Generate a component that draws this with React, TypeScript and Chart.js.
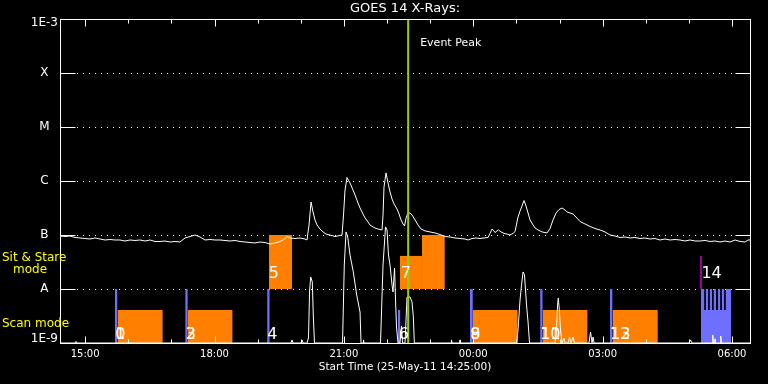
import React, { useEffect, useRef } from 'react';
import { Chart, registerables } from 'chart.js';

Chart.register(...registerables);

// ---- axes ----
const X_MIN = 14 + 25 / 60; // 14:25 on 25-May-11
const X_MAX = X_MIN + 16;
const xTickHours = [15, 16, 17, 18, 19, 20, 21, 22, 23, 24, 25, 26, 27, 28, 29, 30];
const xLabelHours = [15, 18, 21, 24, 27, 30];
const xLabelTexts = ['15:00', '18:00', '21:00', '00:00', '03:00', '06:00'];
const yTickValues = [1e-9, 1e-8, 1e-7, 1e-6, 1e-5, 1e-4, 1e-3];
const yTickLabels = ['1E-9', 'A', 'B', 'C', 'M', 'X', '1E-3'];
const gridLevels = [1e-8, 1e-7, 1e-6, 1e-5, 1e-4];

// ---- GOES long channel (hours of day, W/m^2) ----
const longHours = [
  14.417, 14.533, 14.649, 14.765, 14.880, 14.996, 15.112, 15.228, 15.344, 15.460,
  15.576, 15.692, 15.808, 15.924, 16.040, 16.156, 16.272, 16.388, 16.504, 16.620,
  16.736, 16.851, 16.967, 17.083, 17.199, 17.315, 17.431, 17.547, 17.663, 17.779,
  17.895, 18.011, 18.127, 18.243, 18.359, 18.475, 18.591, 18.707, 18.822, 18.938,
  19.054, 19.170, 19.286, 19.402, 19.518, 19.634, 19.681, 19.750, 19.866, 19.982,
  20.098, 20.144, 20.191, 20.238, 20.284, 20.330, 20.377, 20.446, 20.516, 20.586,
  20.678, 20.794, 20.910, 20.957, 20.991, 21.026, 21.072, 21.142, 21.211, 21.258,
  21.327, 21.374, 21.443, 21.490, 21.559, 21.606, 21.675, 21.722, 21.791, 21.884,
  21.907, 21.930, 21.977, 22.023, 22.070, 22.116, 22.162, 22.232, 22.278, 22.325,
  22.371, 22.406, 22.441, 22.487, 22.533, 22.580, 22.649, 22.719, 22.788, 22.881,
  22.997, 23.113, 23.229, 23.345, 23.461, 23.577, 23.693, 23.809, 23.878, 23.971,
  24.064, 24.156, 24.249, 24.342, 24.388, 24.435, 24.481, 24.504, 24.551, 24.585,
  24.643, 24.713, 24.783, 24.852, 24.922, 24.968, 25.038, 25.084, 25.130, 25.177,
  25.223, 25.270, 25.316, 25.386, 25.432, 25.501, 25.594, 25.710, 25.780, 25.849,
  25.919, 25.988, 26.058, 26.128, 26.174, 26.244, 26.313, 26.383, 26.475, 26.591,
  26.707, 26.823, 26.939, 27.055, 27.171, 27.287, 27.403, 27.519, 27.635, 27.751,
  27.867, 27.983, 28.099, 28.214, 28.330, 28.446, 28.562, 28.678, 28.794, 28.910,
  29.026, 29.142, 29.258, 29.374, 29.490, 29.606, 29.722, 29.838, 29.954, 30.070,
  30.186, 30.302, 30.371, 30.417,
];
const longFlux = [
  9.58e-8, 9.38e-8, 9.58e-8, 8.99e-8, 8.80e-8, 8.61e-8, 8.43e-8, 8.80e-8, 8.43e-8, 8.08e-8,
  8.25e-8, 8.08e-8, 8.08e-8, 7.74e-8, 8.08e-8, 7.91e-8, 8.08e-8, 7.74e-8, 8.08e-8, 7.58e-8,
  7.58e-8, 7.74e-8, 7.42e-8, 7.58e-8, 7.42e-8, 8.80e-8, 9.38e-8, 1.00e-7, 9.18e-8, 8.08e-8,
  8.25e-8, 8.08e-8, 8.08e-8, 7.91e-8, 7.74e-8, 7.91e-8, 7.58e-8, 7.42e-8, 7.26e-8, 7.11e-8,
  7.42e-8, 7.26e-8, 6.81e-8, 7.11e-8, 7.58e-8, 8.43e-8, 9.38e-8, 8.80e-8, 8.61e-8, 8.80e-8,
  8.43e-8, 8.08e-8, 1.53e-7, 4.08e-7, 2.67e-7, 1.90e-7, 1.53e-7, 1.29e-7, 1.14e-7, 1.04e-7,
  1.00e-7, 9.38e-8, 9.79e-8, 1.00e-7, 2.35e-7, 6.81e-7, 1.16e-6, 9.18e-7, 6.81e-7, 5.51e-7,
  3.92e-7, 3.16e-7, 2.45e-7, 2.07e-7, 1.74e-7, 1.53e-7, 1.41e-7, 1.35e-7, 1.29e-7, 1.24e-7,
  2.35e-7, 7.74e-7, 1.41e-6, 9.18e-7, 6.25e-7, 4.64e-7, 3.75e-7, 3.03e-7, 2.45e-7, 1.90e-7,
  1.60e-7, 1.47e-7, 2.07e-7, 2.55e-7, 2.55e-7, 2.35e-7, 1.90e-7, 1.53e-7, 1.29e-7, 1.19e-7,
  1.14e-7, 1.09e-7, 1.02e-7, 9.38e-8, 9.18e-8, 8.80e-8, 8.61e-8, 8.43e-8, 8.08e-8, 8.61e-8,
  8.80e-8, 8.61e-8, 8.80e-8, 8.99e-8, 1.07e-7, 1.29e-7, 1.19e-7, 1.11e-7, 1.19e-7, 1.24e-7,
  1.14e-7, 1.07e-7, 1.04e-7, 1.00e-7, 1.07e-7, 1.16e-7, 2.15e-7, 2.78e-7, 3.44e-7, 4.35e-7,
  3.44e-7, 2.55e-7, 1.90e-7, 1.53e-7, 1.35e-7, 1.24e-7, 1.14e-7, 1.09e-7, 1.32e-7, 1.90e-7,
  2.55e-7, 2.96e-7, 3.16e-7, 2.90e-7, 2.67e-7, 2.55e-7, 2.45e-7, 2.15e-7, 1.78e-7, 1.60e-7,
  1.44e-7, 1.32e-7, 1.24e-7, 1.14e-7, 1.00e-7, 9.58e-8, 8.99e-8, 9.18e-8, 8.80e-8, 8.99e-8,
  8.61e-8, 8.80e-8, 8.43e-8, 8.61e-8, 8.08e-8, 8.43e-8, 8.08e-8, 8.25e-8, 8.08e-8, 7.74e-8,
  8.08e-8, 7.74e-8, 7.74e-8, 7.91e-8, 7.58e-8, 7.74e-8, 7.42e-8, 7.74e-8, 7.42e-8, 8.08e-8,
  7.58e-8, 7.42e-8, 8.08e-8, 8.08e-8,
];

// ---- GOES short channel ----
const shortHours = [
  14.417, 14.765, 14.788, 14.811, 19.773, 19.796, 19.820, 20.005, 20.028, 20.052,
  20.144, 20.179, 20.203, 20.230, 20.267, 20.290, 20.318, 20.968, 21.009, 21.049,
  21.088, 21.142, 21.218, 21.297, 21.374, 21.397, 21.443, 21.455, 21.466, 21.849,
  21.907, 21.965, 22.000, 22.034, 22.069, 22.116, 22.139, 22.174, 22.197, 22.220,
  22.255, 22.301, 22.336, 22.360, 22.417, 22.464, 22.533, 22.580, 22.610, 22.633,
  23.484, 23.495, 23.507, 23.681, 23.693, 23.704, 25.007, 25.041, 25.084, 25.119,
  25.154, 25.188, 25.211, 25.235, 25.270, 25.304, 25.896, 25.930, 25.954, 25.972,
  25.995, 26.023, 26.058, 26.104, 26.128, 26.197, 26.232, 26.267, 26.313, 26.348,
  26.684, 26.719, 26.754, 26.777, 26.800, 29.003, 29.038, 29.072, 29.536, 29.552,
  29.571, 29.594, 29.606, 29.617, 29.722, 29.738, 29.757, 30.417,
];
const shortFlux = [
  1e-9, 1e-9, 1.07e-9, 1e-9, 1e-9, 1.14e-9, 1e-9, 1e-9, 1.14e-9, 1e-9,
  1e-9, 1.24e-9, 8.80e-9, 1.67e-8, 1.35e-8, 3.30e-9, 1e-9, 1e-9, 2.78e-8, 1.14e-7,
  9.18e-8, 4.26e-8, 2.07e-8, 7.74e-9, 3.75e-9, 1e-9, 1e-9, 1.14e-9, 1e-9, 1e-9,
  2.78e-8, 1.41e-7, 1.24e-7, 4.26e-8, 2.78e-8, 1.19e-8, 8.80e-9, 2.45e-8, 6.25e-9, 1.98e-9,
  1e-9, 1e-9, 2.07e-9, 1e-9, 1e-9, 7.11e-9, 7.11e-9, 5.74e-9, 3.03e-9, 1e-9,
  1e-9, 1.14e-9, 1e-9, 1e-9, 1.14e-9, 1e-9, 1e-9, 1.90e-9, 6.25e-9, 1.19e-8,
  2.07e-8, 1.82e-8, 9.58e-9, 5.06e-9, 2.45e-9, 1e-9, 1e-9, 1.74e-9, 5.06e-9, 6.81e-9,
  4.08e-9, 1.74e-9, 1e-9, 1.24e-9, 1e-9, 1e-9, 1.29e-9, 1e-9, 1.29e-9, 1e-9,
  1e-9, 1.60e-9, 1e-9, 1.29e-9, 1e-9, 1e-9, 1.14e-9, 1e-9, 1e-9, 1.41e-9,
  1e-9, 1e-9, 1.19e-9, 1e-9, 1e-9, 1.35e-9, 1e-9, 1e-9,
];

// ---- observing modes ----
const scanMarkStart = [15.69, 17.32, 19.22, 22.25, 23.92, 25.55, 27.17];
const scanMarkEnd = [15.75, 17.38, 19.28, 22.31, 23.99, 25.61, 27.23];
const scanMarkTop = [1e-8, 1e-8, 1e-8, 4.1e-9, 1e-8, 1e-8, 1e-8];
const scanBlockStart = [15.75, 17.38, 23.99, 25.61, 27.23];
const scanBlockEnd = [16.80, 18.42, 25.03, 26.65, 28.28];
const scanBlockTop = [4.1e-9, 4.1e-9, 4.1e-9, 4.1e-9, 4.1e-9];
const stareStart = [19.26, 22.30, 22.81];
const stareEnd = [19.80, 22.81, 23.34];
const stareTop = [1e-7, 4.1e-8, 1e-7];
const stareBase = 1e-8;
const burstFloorStart = [29.28];
const burstFloorEnd = [29.98];
const burstFloorTop = [4.1e-9];
const burstStart = [29.28, 29.39, 29.48, 29.57, 29.67, 29.76, 29.85];
const burstEnd = [29.36, 29.45, 29.54, 29.63, 29.73, 29.82, 29.98];
const burstTop = [1e-8, 1e-8, 1e-8, 1e-8, 1e-8, 1e-8, 1e-8];
const pointerStart = [29.26];
const pointerEnd = [29.30];
const pointerTop = [4.1e-8];
const eventPeakHour = 22.49;

const blockLabelText = ['0', '1', '2', '3', '4', '5', '6', '7', '8', '9', '10', '11', '12', '13', '14'];
const blockLabelHour = [15.70, 15.70, 17.33, 17.33, 19.22, 19.26, 22.27, 22.32, 23.93, 23.93, 25.55, 25.55, 27.17, 27.17, 29.29];
const blockLabelFlux = [1.19e-9, 1.19e-9, 1.19e-9, 1.19e-9, 1.19e-9, 1.6e-8, 1.19e-9, 1.6e-8, 1.19e-9, 1.19e-9, 1.19e-9, 1.19e-9, 1.19e-9, 1.19e-9, 1.6e-8];

const WHITE = '#ffffff';
const ORANGE = '#ff8000';
const BLUE = '#6e6eff';
const GREEN = '#9acd00';
const MAGENTA = '#c800c8';
const YELLOW = '#ffff00';
const FONT = "'DejaVu Sans'";

function rects(starts: number[], ends: number[], tops: number[], base: number, color: string, order: number) {
  return starts.map((s, i) => ({
    type: 'line' as const,
    data: [{ x: s, y: tops[i] }, { x: ends[i], y: tops[i] }],
    borderColor: 'rgba(0,0,0,0)',
    borderWidth: 0,
    backgroundColor: color,
    fill: { value: base },
    pointRadius: 0,
    order,
  }));
}

const decorPlugin = {
  id: 'goesDecor',
  beforeDatasetsDraw(chart: any) {
    const { ctx, chartArea: a } = chart;
    const y = chart.scales.y;
    ctx.save();
    ctx.strokeStyle = WHITE;
    ctx.lineWidth = 1;
    ctx.setLineDash([1, 5]);
    for (const v of gridLevels) {
      const py = Math.round(y.getPixelForValue(v)) + 0.5;
      ctx.beginPath();
      ctx.moveTo(a.left + 17, py);
      ctx.lineTo(a.right - 15, py);
      ctx.stroke();
    }
    ctx.restore();
  },
  afterDatasetsDraw(chart: any) {
    const { ctx, chartArea: a } = chart;
    const x = chart.scales.x;
    const y = chart.scales.y;
    ctx.save();
    ctx.setLineDash([]);
    ctx.strokeStyle = WHITE;
    ctx.lineWidth = 1;
    const L = Math.round(a.left) + 0.5;
    const R = Math.round(a.right) + 0.5;
    const T = Math.round(a.top) + 0.5;
    const B = Math.round(a.bottom) + 0.5;
    ctx.strokeRect(L, T, R - L, B - T);
    ctx.beginPath();
    for (const v of yTickValues) {
      const py = Math.round(y.getPixelForValue(v)) + 0.5;
      ctx.moveTo(L, py); ctx.lineTo(L + 15, py);
      ctx.moveTo(R, py); ctx.lineTo(R - 15, py);
    }
    for (const t of x.ticks) {
      const px = Math.round(x.getPixelForValue(t.value)) + 0.5;
      const len = xLabelHours.includes(t.value) ? 7 : 4;
      ctx.moveTo(px, B); ctx.lineTo(px, B - len);
      ctx.moveTo(px, T); ctx.lineTo(px, T + len);
    }
    ctx.stroke();

    // block numbers
    ctx.fillStyle = WHITE;
    ctx.font = `16px ${FONT}`;
    ctx.textAlign = 'left';
    ctx.textBaseline = 'alphabetic';
    blockLabelText.forEach((t, i) => {
      ctx.fillText(t, x.getPixelForValue(blockLabelHour[i]), y.getPixelForValue(blockLabelFlux[i]));
    });

    // title
    ctx.font = `13px ${FONT}`;
    ctx.textAlign = 'center';
    ctx.textBaseline = 'middle';
    ctx.fillText('GOES 14 X-Rays:', (a.left + a.right) / 2, 9);

    // event peak
    ctx.font = `11px ${FONT}`;
    ctx.textAlign = 'left';
    ctx.fillText('Event Peak', x.getPixelForValue(eventPeakHour) + 12, 43);

    // mode legend
    ctx.fillStyle = YELLOW;
    ctx.font = `12px ${FONT}`;
    ctx.fillText('Sit & Stare', 2, 258);
    ctx.fillText('mode', 13, 270);
    ctx.fillText('Scan mode', 2, 324);
    ctx.restore();
  },
};

export default function App() {
  const ref = useRef<HTMLCanvasElement>(null);
  useEffect(() => {
    document.body.style.margin = '0';
    document.body.style.background = '#000';
    const canvas = ref.current;
    if (!canvas) return;

    const datasets: any[] = [
      {
        type: 'line',
        data: [{ x: eventPeakHour, y: 1e-9 }, { x: eventPeakHour, y: 1e-3 }],
        borderColor: GREEN,
        borderWidth: 2,
        pointRadius: 0,
        fill: false,
        order: 0,
      },
      {
        type: 'line',
        data: shortHours.map((h, i) => ({ x: h, y: shortFlux[i] })),
        borderColor: WHITE,
        borderWidth: 1,
        pointRadius: 0,
        fill: false,
        order: 1,
      },
      {
        type: 'line',
        data: longHours.map((h, i) => ({ x: h, y: longFlux[i] })),
        borderColor: WHITE,
        borderWidth: 1,
        pointRadius: 0,
        fill: false,
        order: 2,
      },
      ...rects(pointerStart, pointerEnd, pointerTop, 1e-8, MAGENTA, 5),
      ...rects(burstStart, burstEnd, burstTop, 1e-9, BLUE, 6),
      ...rects(burstFloorStart, burstFloorEnd, burstFloorTop, 1e-9, BLUE, 6),
      ...rects(scanMarkStart, scanMarkEnd, scanMarkTop, 1e-9, BLUE, 6),
      ...rects(scanBlockStart, scanBlockEnd, scanBlockTop, 1e-9, ORANGE, 7),
      ...rects(stareStart, stareEnd, stareTop, stareBase, ORANGE, 7),
    ];

    const chart = new Chart(canvas, {
      type: 'line',
      data: { datasets },
      options: {
        animation: false,
        responsive: false,
        maintainAspectRatio: false,
        events: [],
        layout: { padding: { top: 19, right: 18, left: 0, bottom: 0 } },
        plugins: {
          legend: { display: false },
          tooltip: { enabled: false },
          title: { display: false },
        },
        scales: {
          x: {
            type: 'linear',
            position: 'bottom',
            min: X_MIN,
            max: X_MAX,
            afterBuildTicks: (s: any) => {
              s.ticks = xTickHours.map((v) => ({ value: v }));
            },
            afterFit: (s: any) => {
              s.height = 41;
            },
            grid: { display: false, drawTicks: false },
            border: { display: false },
            ticks: {
              autoSkip: false,
              maxRotation: 0,
              minRotation: 0,
              padding: 5,
              color: WHITE,
              font: { family: FONT, size: 10 },
              callback: (v: any) => {
                const k = xLabelHours.indexOf(Number(v));
                return k >= 0 ? xLabelTexts[k] : '';
              },
            },
            title: {
              display: true,
              text: 'Start Time (25-May-11 14:25:00)',
              color: WHITE,
              font: { family: FONT, size: 10.5 },
              padding: { top: 0, bottom: 10 },
            },
          },
          y: {
            type: 'logarithmic',
            position: 'left',
            min: 1e-9,
            max: 1e-3,
            afterBuildTicks: (s: any) => {
              s.ticks = yTickValues.map((v) => ({ value: v }));
            },
            afterFit: (s: any) => {
              s.width = 60;
            },
            grid: { display: false, drawTicks: false },
            border: { display: false },
            ticks: {
              autoSkip: false,
              crossAlign: 'center',
              padding: 2,
              color: WHITE,
              font: (c: any) => ({
                family: FONT,
                size: 12,
                lineHeight: c.index === 0 || c.index === yTickValues.length - 1 ? '8px' : 1.2,
              }),
              callback: (_v: any, i: number) => {
                const lab = yTickLabels[i];
                if (i === 0) return [lab, ''];
                if (i === yTickLabels.length - 1) return ['', lab];
                return lab;
              },
            },
          },
        },
      } as any,
      plugins: [decorPlugin],
    });
    return () => chart.destroy();
  }, []);

  return (
    <div style={{ width: 768, height: 384, background: '#000' }}>
      <canvas ref={ref} width={768} height={384} style={{ display: 'block', width: 768, height: 384 }} />
    </div>
  );
}
